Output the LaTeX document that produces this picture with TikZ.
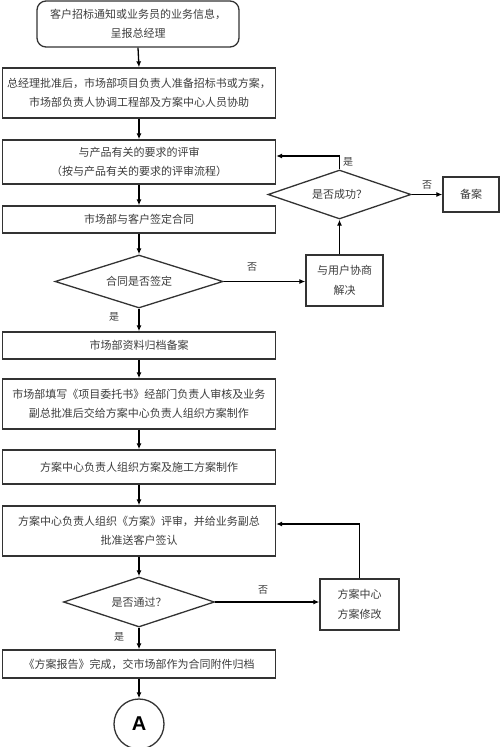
\documentclass[tikz,border=0pt]{standalone}
\usepackage{fontspec}
\setmainfont{Noto Sans CJK SC}
\newfontfamily\letterfont{Liberation Sans}
\usepackage{tikz}
\usetikzlibrary{shapes.geometric, arrows.meta}
\definecolor{linegray}{HTML}{333333}
\definecolor{textgray}{HTML}{3C3C3C}

\begin{document}
\begin{tikzpicture}[x=1pt, y=-1pt,
  box/.style={draw=linegray, line width=1.3pt, minimum width=273pt, inner sep=2pt, align=center, text=textgray, font=\fontsize{11}{19.5}\selectfont},
  sidebox/.style={box, minimum width=#1},
  decision/.style={diamond, draw=linegray, line width=1.3pt, inner sep=0pt, aspect=3.2, text=textgray, font=\fontsize{11}{13}\selectfont},
  lbl/.style={text=textgray, font=\fontsize{10}{12}\selectfont, inner sep=0pt},
  arr/.style={line width=1.3pt, draw=black, -{Latex[length=6pt,width=5pt]}}]
\useasboundingbox (0,0) rectangle (500,747);
\node[box, rounded corners=9pt, minimum width=202pt, minimum height=46pt] (b1) at (138,24) {客户招标通知或业务员的业务信息，\\呈报总经理};
\node[box, minimum height=50pt] (b2) at (139,93) {总经理批准后，市场部项目负责人准备招标书或方案，\\市场部负责人协调工程部及方案中心人员协助};
\node[box, minimum height=44pt] (b3) at (139,162) {与产品有关的要求的评审\\（按与产品有关的要求的评审流程）};
\node[box, minimum height=27pt] (b4) at (139,219.5) {市场部与客户签定合同};
\node[decision, minimum width=168pt, minimum height=53pt] (d1) at (139,281.5) {合同是否签定};
\node[sidebox=77pt, minimum height=51pt] (b5) at (344.5,280.5) {与用户协商\\解决};
\node[decision, minimum width=143pt, minimum height=49pt] (d2) at (339.5,194.5) {是否成功？};
\node[sidebox=56pt, minimum height=35pt] (b6) at (471,194.5) {备案};
\node[box, minimum height=27pt] (b7) at (139,345.5) {市场部资料归档备案};
\node[box, minimum height=50pt] (b8) at (139,404) {市场部填写《项目委托书》经部门负责人审核及业务\\副总批准后交给方案中心负责人组织方案制作};
\node[box, minimum height=34pt] (b9) at (139,467) {方案中心负责人组织方案及施工方案制作};
\node[box, minimum height=50pt] (b10) at (139,531) {方案中心负责人组织《方案》评审，并给业务副总\\批准送客户签认};
\node[decision, minimum width=151pt, minimum height=50pt] (d3) at (139,602) {是否通过？};
\node[sidebox=79pt, minimum height=51pt] (b11) at (359.5,604.5) {方案中心\\方案修改};
\node[box, minimum height=28pt] (b12) at (139,664) {《方案报告》完成，交市场部作为合同附件归档};
\node[circle, draw=linegray, line width=1.3pt, minimum size=50pt, inner sep=0pt, font=\letterfont\bfseries\fontsize{20}{20}\selectfont] (a) at (139,724) {A};
\node[lbl] (l1) at (252,267) {否};
\node[lbl] (l2) at (348,162) {是};
\node[lbl] (l3) at (427,185) {否};
\node[lbl] (l4) at (114,317) {是};
\node[lbl] (l5) at (263,590) {否};
\node[lbl] (l6) at (119,637) {是};
\draw[arr] (b1.south) -- (b2.north);
\draw[arr] (b2.south) -- (b3.north);
\draw[arr] (b3.south) -- (b4.north);
\draw[arr] (b4.south) -- (d1.north);
\draw[arr] (d1.east) -- (d1.east -| b5.west);
\draw[arr] (b5.north -| d2.south) -- (d2.south);
\draw[arr] (d2.north) |- ([yshift=6pt]b3.east);
\draw[arr] (d2.east) -- (d2.east -| b6.west);
\draw[arr] (d1.south) -- (b7.north);
\draw[arr] (b7.south) -- (b8.north);
\draw[arr] (b8.south) -- (b9.north);
\draw[arr] (b9.south) -- (b10.north);
\draw[arr] (b10.south) -- (d3.north);
\draw[arr] (d3.east) -- (d3.east -| b11.west);
\draw[arr] (b11.north) |- ([yshift=7pt]b10.east);
\draw[arr] (d3.south) -- (b12.north);
\draw[arr] (b12.south) -- (a.north);
\end{tikzpicture}
\end{document}
